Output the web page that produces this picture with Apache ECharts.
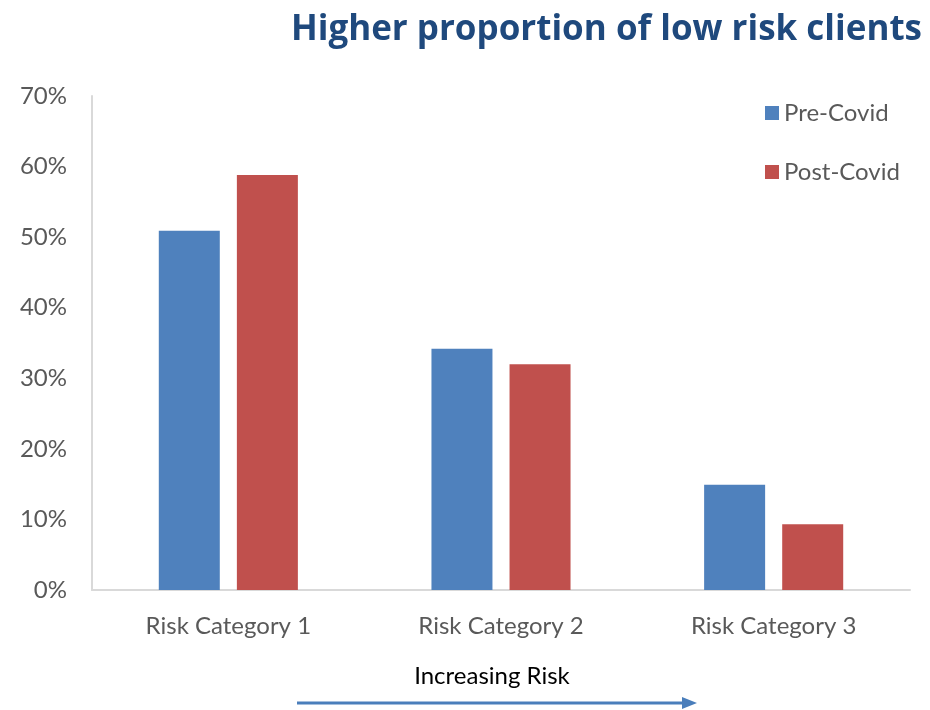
<!DOCTYPE html>
<html><head><meta charset="utf-8">
<script src="https://cdn.jsdelivr.net/npm/echarts@6/dist/echarts.min.js"></script>
<style>html,body{margin:0;padding:0;background:#fff}#c{width:930px;height:710px}</style>
</head><body><div id="c"></div>
<script>
const categories = ['Risk Category 1', 'Risk Category 2', 'Risk Category 3'];
const preCovid = [50.9, 34.2, 14.9];
const postCovid = [58.8, 32.0, 9.3];
const yTicks = [0, 10, 20, 30, 40, 50, 60, 70];
const seriesNames = ['Pre-Covid', 'Post-Covid'];

const chart = echarts.init(document.getElementById('c'));
const labelFont = 'Lato, "Open Sans", sans-serif';
chart.setOption({
  animation: false,
  title: {
    text: 'Higher proportion of low risk clients',
    right: 3, top: 8,
    textStyle: { color: '#1F497D', fontSize: 35, fontWeight: 'bold', fontFamily: '"Open Sans", sans-serif' }
  },
  legend: {
    orient: 'vertical', left: 760, top: 96,
    itemWidth: 14, itemHeight: 14, itemGap: 35,
    icon: 'rect',
    textStyle: { color: '#595959', fontSize: 24, fontFamily: labelFont },
    data: seriesNames
  },
  grid: { left: 92, right: 20, top: 96, bottom: 120, containLabel: false },
  xAxis: {
    type: 'category', data: categories,
    axisLine: { lineStyle: { color: '#D9D9D9', width: 2 } },
    axisTick: { show: false },
    axisLabel: { color: '#595959', fontSize: 24, fontFamily: labelFont, margin: 24 }
  },
  yAxis: {
    type: 'value', min: yTicks[0], max: yTicks[yTicks.length - 1], interval: 10,
    axisLine: { show: true, lineStyle: { color: '#D9D9D9', width: 2 } },
    axisTick: { show: false },
    splitLine: { show: false },
    axisLabel: { color: '#595959', fontSize: 24, fontFamily: labelFont, margin: 25, formatter: v => v + '%' }
  },
  series: [
    { name: seriesNames[0], type: 'bar', data: preCovid, barWidth: 61, barGap: '28%',
      itemStyle: { color: '#4F81BD' } },
    { name: seriesNames[1], type: 'bar', data: postCovid, barWidth: 61,
      itemStyle: { color: '#C0504D' } }
  ],
  graphic: [
    { type: 'text', x: 492, y: 676, style: { text: 'Increasing Risk', fill: '#000', fontSize: 24, fontFamily: labelFont, textAlign: 'center', textVerticalAlign: 'middle' } },
    { type: 'line', shape: { x1: 297, y1: 703, x2: 684, y2: 703 }, style: { stroke: '#4A7EBB', lineWidth: 3 } },
    { type: 'polygon', shape: { points: [[682, 697], [697, 703], [682, 709]] }, style: { fill: '#4A7EBB' } }
  ]
});
</script></body></html>
